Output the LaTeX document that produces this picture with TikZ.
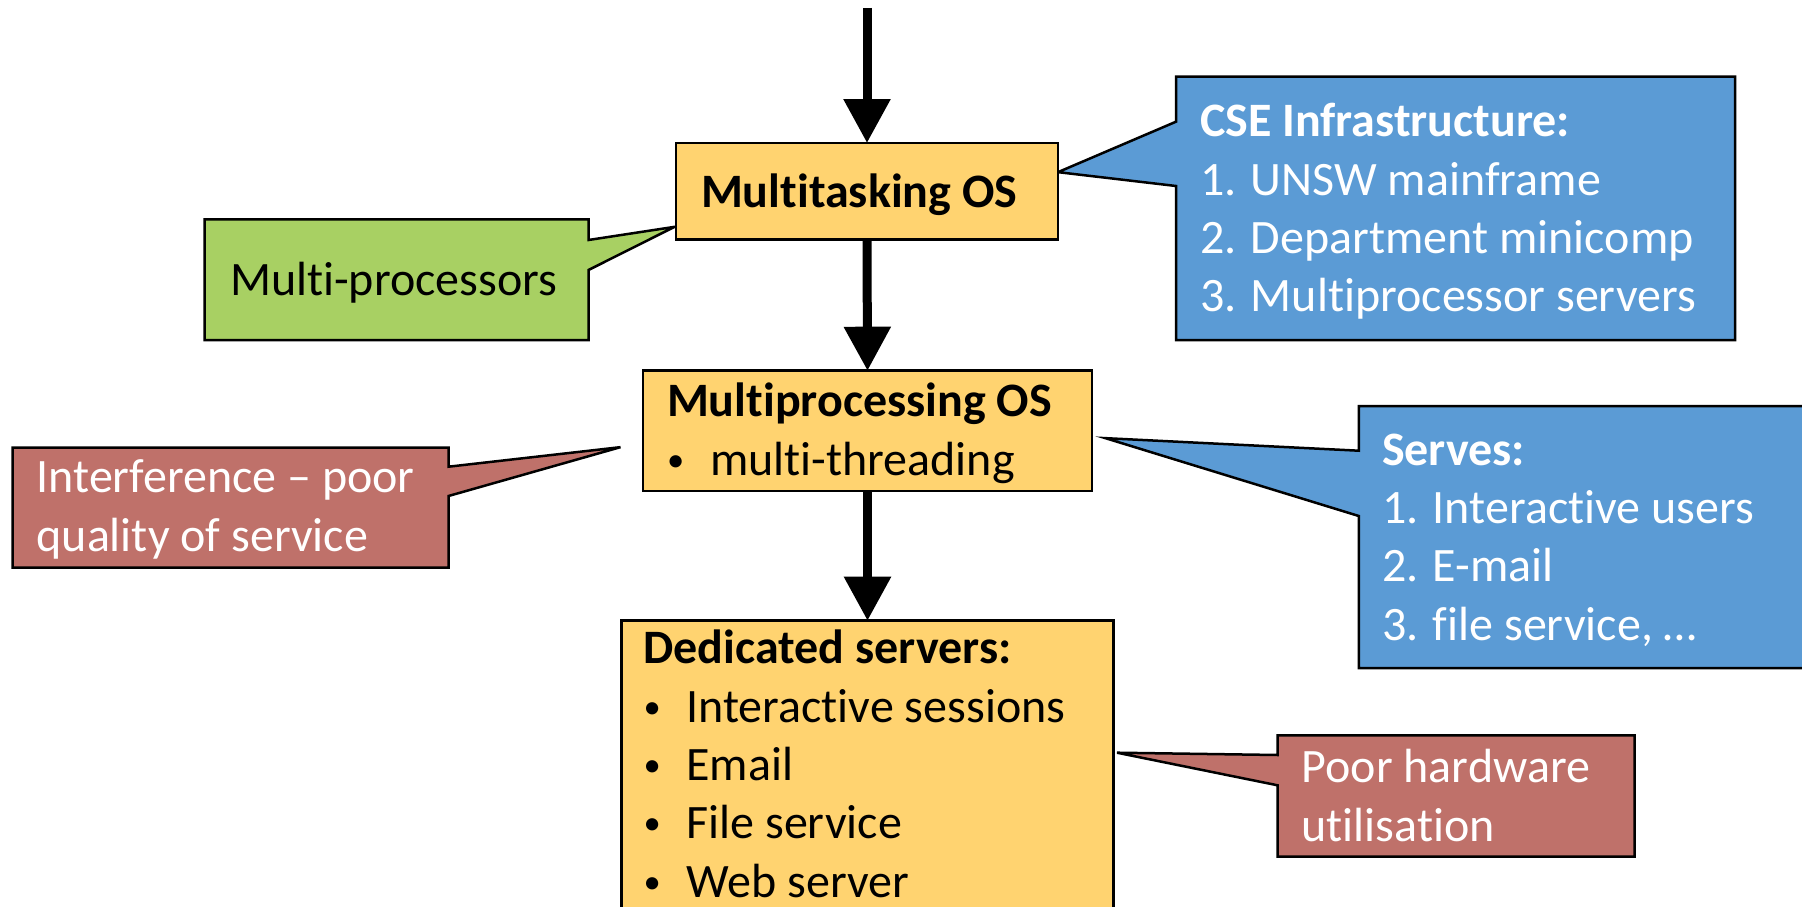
\documentclass[tikz,border=0pt]{standalone}
\usepackage{graphicx}
\usepackage{fontspec}
\setmainfont{Carlito}[Ligatures=CommonOff]
\usetikzlibrary{arrows.meta,calc}
\definecolor{boxgold}{RGB}{255,211,112}
\definecolor{notegreen}{RGB}{168,208,99}
\definecolor{noteblue}{RGB}{91,155,213}
\definecolor{notered}{RGB}{191,113,106}
\newcommand\itembullet{\makebox[43pt][l]{\raisebox{4pt}{\scalebox{0.72}{•}}}}
\begin{document}
\begin{tikzpicture}[x=1pt,y=-1pt,
  every node/.style={inner sep=0pt, outer sep=0pt},
  frame/.style={draw=black, line width=2.5pt},
  blockbox/.style={frame, fill=boxgold, rectangle, anchor=north west},
  body/.style={rectangle, anchor=north west},
  % multi-line texts are placed by the baseline of their last line
  txt/.style={anchor=base west, align=left, font=\fontsize{48}{58.4}\selectfont},
  lighttxt/.style={txt, text=white},
  flow/.style={line width=9pt, -{Triangle[width=45pt,length=44pt]}},
]
\useasboundingbox (0,0) rectangle (1802,907);
\clip (0,0) rectangle (1802,907);

% main chain of boxes
\node[blockbox, minimum width=382pt, minimum height=96.3pt] (mt) at (676,143) {};
\node[blockbox, minimum width=449pt, minimum height=120.3pt] (mp) at (643,370.7) {};
\node[blockbox, minimum width=492pt, minimum height=340pt] (ded) at (621.5,620.7) {};

% callout bodies
\node[body, minimum width=384pt, minimum height=120.7pt] (multi) at (204.5,219.3) {};
\node[body, minimum width=559pt, minimum height=263.3pt] (cse) at (1176,76.7) {};
\node[body, minimum width=436pt, minimum height=120pt] (interf) at (12.5,447.7) {};
\node[body, minimum width=541pt, minimum height=262pt] (serves) at (1358.8,406) {};
\node[body, minimum width=357pt, minimum height=121.4pt] (poorhw) at (1277.6,735.3) {};

% pointer tips
\coordinate (multitip) at ($(mt.west)+(-1.5,35.7)$);
\coordinate (csetip) at ($(mt.east)+(0,-19)$);
\coordinate (interftip) at ($(mp.west)+(-22.5,16.3)$);
\coordinate (servestip) at ($(mp.east)+(13.4,7.3)$);
\coordinate (poorhwtip) at ($(ded.north east)+(3.5,132)$);

% callout outlines
\draw[frame, fill=notegreen] (multi.north west) -- (multi.north east)
  -- ($(multi.north east)+(0,20.7)$) -- (multitip) -- ($(multi.north east)+(0,50.7)$)
  -- (multi.south east) -- (multi.south west) -- cycle;
\draw[frame, fill=noteblue] (cse.north west) -- (cse.north east) -- (cse.south east)
  -- (cse.south west) -- ($(cse.north west)+(0,109.3)$) -- (csetip)
  -- ($(cse.north west)+(0,45)$) -- cycle;
\draw[frame, fill=notered] (interf.north west) -- (interf.north east)
  -- ($(interf.north east)+(0,19)$) -- (interftip) -- ($(interf.north east)+(0,48.3)$)
  -- (interf.south east) -- (interf.south west) -- cycle;
\draw[frame, fill=noteblue] (serves.north west) -- (serves.north east) -- (serves.south east)
  -- (serves.south west) -- ($(serves.north west)+(0,110)$) -- (servestip)
  -- ($(serves.north west)+(0,44.7)$) -- cycle;
\draw[frame, fill=notered] (poorhw.north west) -- (poorhw.north east) -- (poorhw.south east)
  -- (poorhw.south west) -- ($(poorhw.north west)+(0,50)$) -- (poorhwtip)
  -- ($(poorhw.north west)+(0,19.7)$) -- cycle;

% redraw the main boxes over the pointer tips
\draw[frame, fill=boxgold] (mt.north west) rectangle (mt.south east);
\draw[frame, fill=boxgold] (mp.north west) rectangle (mp.south east);
\draw[frame, fill=boxgold] (ded.north west) rectangle (ded.south east);

% flow arrows
\coordinate (start) at (867,8);
\draw[flow] (start) -- (mt.north);
\draw[flow] (mt.south) -- (mp.north);
\draw[flow] (mp.south) -- (ded.north);

% texts
\node[txt] (mttext) at (701,207) {\bfseries Multitasking OS};
\node[txt] (mptext) at (667,475) {\textbf{Multiprocessing OS}\\\itembullet multi-threading};
\node[txt] (dedtext) at (643.5,897.3) {\textbf{Dedicated servers:}\\\itembullet Interactive sessions\\\itembullet Email\\\itembullet File service\\\itembullet Web server};
\node[txt] (multitext) at (230,295.7) {Multi-processors};
\node[lighttxt] (csetext) at (1200,311.8) {\textbf{CSE Infrastructure:}\\1. UNSW mainframe\\2. Department minicomp\\3. Multiprocessor servers};
\node[lighttxt] (interftext) at (36.6,551) {Interference – poor\\quality of service};
\node[lighttxt] (servestext) at (1382,640.2) {\textbf{Serves:}\\1. Interactive users\\2. E-mail\\3. file service, …};
\node[lighttxt] (poorhwtext) at (1301.7,841) {Poor hardware\\utilisation};
\end{tikzpicture}
\end{document}
